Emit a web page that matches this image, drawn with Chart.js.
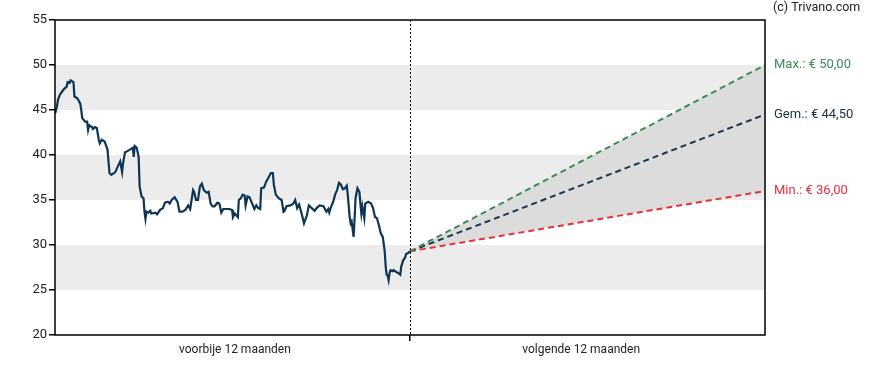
<!DOCTYPE html>
<html>
<head>
<meta charset="utf-8">
<script src="https://cdn.jsdelivr.net/npm/chart.js@4"></script>
<style>
	html, body { margin: 0; padding: 0; background: #fff; }
	#wrap { width: 888px; height: 370px; }
</style>
</head>
<body>
<div id="wrap"><canvas id="koersChart" width="888" height="370"></canvas></div>
<script>
// days since start of the past 12 months, and closing price
const pastDays = [0, 2, 3, 5, 7, 9, 10, 12, 13, 15, 16, 19, 20, 23, 26, 27, 28, 31, 33, 34, 35, 38, 39, 41, 43, 45, 46, 48, 51, 54, 56, 58, 62, 64, 67, 69, 70, 72, 74, 77, 80, 81, 82, 84, 86, 87, 89, 91, 92, 93, 94, 96, 98, 99, 103, 105, 108, 111, 113, 116, 118, 120, 123, 126, 128, 131, 134, 137, 139, 142, 143, 145, 147, 149, 151, 153, 156, 158, 160, 162, 164, 167, 169, 171, 173, 176, 179, 182, 183, 185, 188, 189, 191, 193, 195, 196, 198, 200, 202, 205, 207, 209, 211, 212, 215, 217, 219, 222, 224, 225, 227, 230, 233, 235, 236, 238, 242, 245, 247, 249, 251, 254, 256, 259, 261, 264, 267, 269, 272, 276, 279, 281, 282, 284, 286, 288, 290, 292, 294, 296, 298, 300, 301, 303, 304, 305, 307, 308, 309, 311, 313, 314, 315, 316, 318, 319, 322, 325, 327, 329, 331, 333, 335, 337, 339, 340, 341, 342, 343, 344, 345, 347, 348, 351, 354, 355, 356, 358, 360, 361, 363, 365]
const pastPrices = [44.6, 45.4, 46.1, 46.7, 47.0, 47.3, 47.4, 47.6, 48.1, 48.0, 48.3, 48.1, 46.5, 46.3, 45.7, 45.0, 44.1, 43.7, 43.7, 42.8, 43.3, 43.1, 42.9, 43.1, 43.0, 41.7, 41.3, 41.7, 41.5, 40.6, 38.0, 37.8, 38.1, 38.6, 39.3, 38.1, 39.1, 40.3, 40.4, 40.6, 40.8, 39.8, 41.0, 40.8, 39.8, 36.5, 35.4, 35.2, 33.7, 32.9, 33.7, 33.6, 33.8, 33.5, 33.6, 33.4, 33.9, 34.1, 34.7, 34.8, 34.6, 35.0, 35.3, 34.8, 33.7, 33.7, 33.9, 34.4, 34.0, 36.1, 35.9, 35.0, 35.0, 36.5, 36.8, 36.1, 35.8, 35.9, 34.6, 34.3, 34.3, 34.7, 34.6, 33.6, 34.0, 34.0, 34.0, 33.9, 33.1, 33.5, 33.1, 35.0, 35.2, 35.6, 35.5, 34.4, 35.4, 35.3, 34.8, 34.0, 34.4, 34.1, 34.0, 36.3, 36.4, 37.0, 37.4, 38.0, 38.0, 36.7, 35.6, 35.2, 35.0, 33.7, 33.8, 34.3, 34.4, 34.6, 35.0, 34.1, 34.5, 33.3, 32.4, 33.3, 34.4, 34.1, 33.8, 34.1, 34.4, 34.3, 33.7, 34.0, 33.6, 34.3, 34.8, 35.6, 36.1, 36.9, 36.7, 36.2, 36.3, 36.6, 35.6, 33.1, 32.4, 32.6, 30.9, 32.8, 35.2, 36.3, 35.9, 34.6, 33.5, 34.3, 33.0, 34.6, 34.8, 34.6, 34.1, 33.1, 33.0, 32.2, 31.3, 30.9, 29.3, 27.6, 26.7, 26.6, 26.1, 26.9, 27.2, 27.1, 27.2, 27.0, 26.8, 26.7, 27.6, 28.3, 28.6, 29.0, 29.1, 29.3]

// forecast: start (today) and end (12 months ahead)
const forecastDays = [365, 730]
const maxForecast = [29.3, 50.0]
const avgForecast = [29.3, 44.5]
const minForecast = [29.3, 36.0]

const periodLabels = ["voorbije 12 maanden", "volgende 12 maanden"]
const periodTicks = [185, 541]
const todayDay = 365

const yTicks = [20, 25, 30, 35, 40, 45, 50, 55]
const bands = [[25, 30], [35, 40], [45, 50]]

const forecastLabels = [
	{ text: "Max.: € 50,00", value: 50.0, color: "#3d8c55" },
	{ text: "Gem.: € 44,50", value: 44.5, color: "#1c2f45" },
	{ text: "Min.: € 36,00", value: 36.0, color: "#e8303d" },
]

const FONT = "Roboto, 'Noto Sans', sans-serif"

function pairs(xs, ys) {
	return xs.map((x, i) => ({ x, y: ys[i] }))
}

const backgroundPlugin = {
	id: "background",
	beforeDatasetsDraw(chart) {
		const { ctx, chartArea, scales } = chart
		ctx.save()
		ctx.fillStyle = "#ececec"
		bands.forEach(([lo, hi]) => {
			const top = scales.y.getPixelForValue(hi)
			const bottom = scales.y.getPixelForValue(lo)
			ctx.fillRect(chartArea.left, top, chartArea.right - chartArea.left, bottom - top)
		})
		ctx.restore()
	},
	afterDatasetsDraw(chart) {
		const { ctx, chartArea, scales } = chart
		const x = Math.round(scales.x.getPixelForValue(todayDay)) + 0.5
		ctx.save()
		ctx.strokeStyle = "#000"
		ctx.lineWidth = 1
		ctx.setLineDash([2, 2])
		ctx.beginPath()
		ctx.moveTo(x, chartArea.top)
		ctx.lineTo(x, chartArea.bottom)
		ctx.stroke()
		ctx.setLineDash([])
		ctx.lineWidth = 1.5
		ctx.strokeRect(chartArea.left, chartArea.top, chartArea.right - chartArea.left, chartArea.bottom - chartArea.top)

		ctx.font = `13px ${FONT}`
		ctx.textBaseline = "middle"
		ctx.textAlign = "left"
		forecastLabels.forEach((l) => {
			ctx.fillStyle = l.color
			ctx.fillText(l.text, chartArea.right + 9, scales.y.getPixelForValue(l.value))
		})
		ctx.font = `12.5px ${FONT}`
		ctx.fillStyle = "#222"
		ctx.fillText("(c) Trivano.com", chartArea.right + 8, 8)
		ctx.restore()
	},
}

new Chart(document.getElementById("koersChart"), {
	type: "line",
	data: {
		datasets: [
			{
				label: "Koers",
				data: pairs(pastDays, pastPrices),
				borderColor: "#0e3554",
				borderWidth: 2.2,
				pointRadius: 0,
				tension: 0,
				fill: false,
			},
			{
				label: "Max",
				data: pairs(forecastDays, maxForecast),
				borderColor: "#3d8c55",
				borderWidth: 2,
				borderDash: [6, 4],
				pointRadius: 0,
				fill: false,
			},
			{
				label: "Gem",
				data: pairs(forecastDays, avgForecast),
				borderColor: "#1c3550",
				borderWidth: 2,
				borderDash: [6, 4],
				pointRadius: 0,
				fill: false,
			},
			{
				label: "Min",
				data: pairs(forecastDays, minForecast),
				borderColor: "#e8303d",
				borderWidth: 2,
				borderDash: [6, 4],
				pointRadius: 0,
				fill: { target: 1 },
				backgroundColor: "#dcdcdc",
			},
		],
	},
	options: {
		responsive: false,
		animation: false,
		events: [],
		layout: { padding: { top: 20, right: 123, left: 0, bottom: 0 } },
		plugins: { legend: { display: false }, tooltip: { enabled: false } },
		scales: {
			x: {
				type: "linear",
				min: 0,
				max: 730,
				afterFit(scale) { scale.height = 35 },
				afterBuildTicks(scale) {
					scale.ticks = [...periodTicks, todayDay].map((value) => ({ value }))
				},
				ticks: {
					autoSkip: false,
					maxRotation: 0,
					padding: 2,
					color: "#222",
					font: { family: FONT, size: 12 },
					callback(value) {
						const i = periodTicks.indexOf(value)
						return i >= 0 ? periodLabels[i] : ""
					},
				},
				grid: {
					drawOnChartArea: false,
					tickLength: 6,
					lineWidth: 1.5,
					color: (c) => (c.tick && c.tick.value === todayDay ? "#000" : "rgba(0,0,0,0)"),
				},
				border: { display: false },
			},
			y: {
				min: 20,
				max: 55,
				afterFit(scale) { scale.width = 55 },
				afterBuildTicks(scale) {
					scale.ticks = yTicks.map((value) => ({ value }))
				},
				ticks: {
					padding: 2,
					color: "#222",
					font: { family: FONT, size: 13 },
				},
				grid: {
					drawOnChartArea: false,
					tickLength: 6,
					lineWidth: 1.5,
					color: "#000",
				},
				border: { display: false },
			},
		},
	},
	plugins: [backgroundPlugin],
})
</script>
</body>
</html>
